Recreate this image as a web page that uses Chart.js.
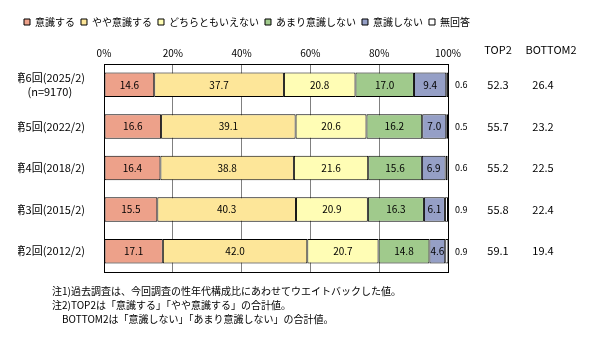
<!doctype html>
<html lang="ja">
<head>
<meta charset="utf-8">
<title>意識度の推移</title>
<script src="https://cdn.jsdelivr.net/npm/chart.js@4.4.1/dist/chart.umd.min.js"></script>
<style>
  html, body { margin: 0; padding: 0; background: #fff; }
  #chartx { width: 593px; height: 339px; }
</style>
</head>
<body>
<div id="chartx"><canvas id="myChart"></canvas></div>

<script>
const rounds = [['第6回(2025/2)', '(n=9170)'], '第5回(2022/2)', '第4回(2018/2)', '第3回(2015/2)', '第2回(2012/2)'];

const ishikiSuru   = [14.6, 16.6, 16.4, 15.5, 17.1];
const yayaIshiki   = [37.7, 39.1, 38.8, 40.3, 42.0];
const dochiraMo    = [20.8, 20.6, 21.6, 20.9, 20.7];
const amariShinai  = [17.0, 16.2, 15.6, 16.3, 14.8];
const ishikiShinai = [9.4, 7.0, 6.9, 6.1, 4.6];
const muKaitou     = [0.6, 0.5, 0.6, 0.9, 0.9];

const top2    = [52.3, 55.7, 55.2, 55.8, 59.1];
const bottom2 = [26.4, 23.2, 22.5, 22.4, 19.4];

const xTicks = [0, 20, 40, 60, 80, 100];

const notes = [
  '注1)過去調査は、今回調査の性年代構成比にあわせてウエイトバックした値。',
  '注2)TOP2は「意識する」「やや意識する」の合計値。',
  '　BOTTOM2は「意識しない」「あまり意識しない」の合計値。'
];

const FONT = "'Noto Sans CJK JP', sans-serif";
Chart.defaults.font.family = FONT;
Chart.defaults.color = '#000';

const data = {
  labels: rounds,
  datasets: [
    { label: '意識する',         data: ishikiSuru,   backgroundColor: '#EDA18A' },
    { label: 'やや意識する',     data: yayaIshiki,   backgroundColor: '#FDE699' },
    { label: 'どちらともいえない', data: dochiraMo,  backgroundColor: '#FFFDB5' },
    { label: 'あまり意識しない', data: amariShinai,  backgroundColor: '#A0CA8C' },
    { label: '意識しない',       data: ishikiShinai, backgroundColor: '#959FC6' },
    { label: '無回答',           data: muKaitou,     backgroundColor: '#FFFFFF' }
  ].map(ds => Object.assign(ds, {
    borderColor: '#000',
    borderWidth: 1,
    borderSkipped: false,
    barPercentage: 0.59,
    categoryPercentage: 1
  }))
};

// numbers in the bars, no-answer column, TOP2/BOTTOM2 and notes
const barText = {
  id: 'barText',
  afterDatasetsDraw(chart) {
    const ctx = chart.ctx;
    const area = chart.chartArea;
    const yScale = chart.scales.y;
    ctx.save();
    ctx.fillStyle = '#000';
    ctx.textBaseline = 'middle';

    // outer frame of plot
    ctx.strokeStyle = '#000';
    ctx.lineWidth = 1;
    ctx.strokeRect(Math.round(area.left) + 0.5, Math.round(area.top) + 0.5,
                   Math.round(area.right - area.left), Math.round(area.bottom - area.top));

    ctx.font = '10px ' + FONT;
    ctx.textAlign = 'center';
    chart.data.datasets.forEach((ds, di) => {
      if (di === 5) return;
      chart.getDatasetMeta(di).data.forEach((bar, i) => {
        ctx.fillText(ds.data[i].toFixed(1), (bar.x + bar.base) / 2, bar.y);
      });
    });

    ctx.textAlign = 'left';
    ctx.font = '9px ' + FONT;
    muKaitou.forEach((v, i) => {
      ctx.fillText(v.toFixed(1), area.right + 7, yScale.getPixelForValue(i));
    });

    ctx.textAlign = 'center';
    ctx.font = '11px ' + FONT;
    ctx.fillText('TOP2', area.right + 50, 50);
    ctx.fillText('BOTTOM2', area.right + 103, 50);
    top2.forEach((v, i) => ctx.fillText(v.toFixed(1), area.right + 50, yScale.getPixelForValue(i)));
    bottom2.forEach((v, i) => ctx.fillText(v.toFixed(1), area.right + 95, yScale.getPixelForValue(i)));

    ctx.textAlign = 'left';
    ctx.font = '10px ' + FONT;
    notes.forEach((t, i) => ctx.fillText(t, 52, area.bottom + 19 + i * 14));
    ctx.restore();
  }
};

const config = {
  type: 'bar',
  data: data,
  options: {
    indexAxis: 'y',
    responsive: true,
    maintainAspectRatio: false,
    animation: false,
    layout: {
      padding: { left: 18, right: 0, top: 11, bottom: 67 }
    },
    scales: {
      x: {
        position: 'top',
        stacked: true,
        min: 0,
        max: 100,
        afterBuildTicks: scale => { scale.ticks = xTicks.map(v => ({ value: v })); },
        afterFit: scale => { scale.height = 27; },
        ticks: {
          callback: v => v + '%',
          font: { size: 10 },
          padding: 5
        },
        grid: { color: '#808080', drawTicks: false },
        border: { color: '#000' }
      },
      y: {
        stacked: true,
        afterFit: scale => { scale.width = 86; },
        ticks: {
          font: { size: 11 },
          padding: 11,
          crossAlign: 'center'
        },
        grid: { display: false },
        border: { color: '#000' }
      },
      // empty right-hand axis, keeps room for the TOP2 / BOTTOM2 columns
      side: {
        type: 'linear',
        position: 'right',
        afterFit: scale => { scale.width = 145; },
        ticks: { display: false },
        grid: { display: false },
        border: { display: false }
      }
    },
    plugins: {
      legend: {
        position: 'top',
        align: 'start',
        labels: {
          boxWidth: 6,
          boxHeight: 6,
          padding: 6,
          font: { size: 10 }
        }
      },
      tooltip: { enabled: false }
    }
  },
  plugins: [barText]
};

const myChart = new Chart(document.getElementById('myChart'), config);
</script>
</body>
</html>
